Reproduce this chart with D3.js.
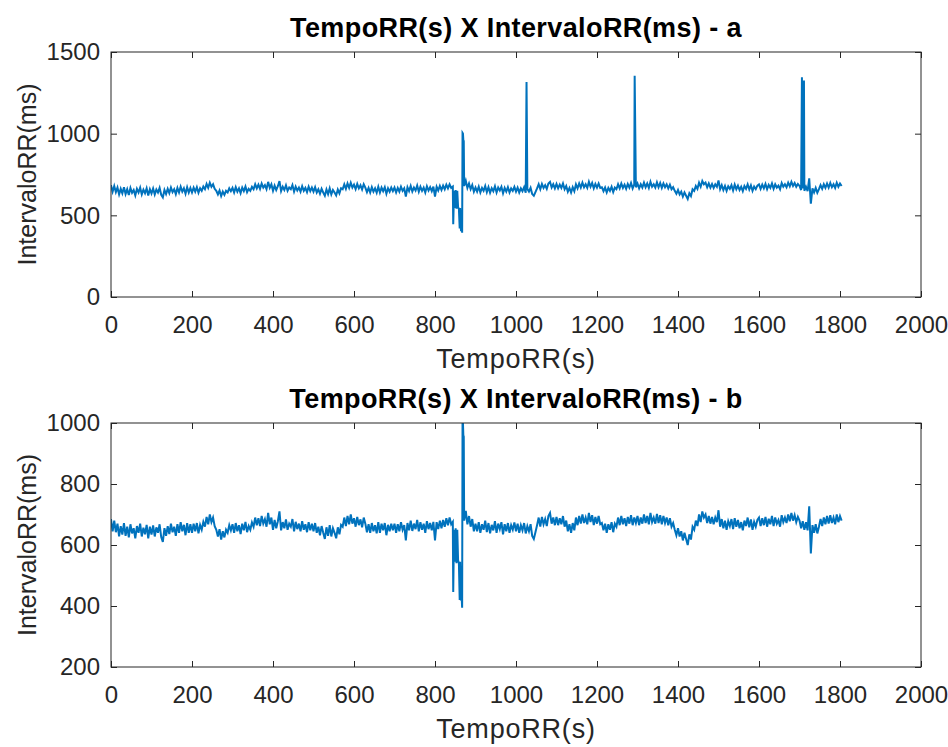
<!DOCTYPE html>
<html><head><meta charset="utf-8">
<script src="https://cdn.jsdelivr.net/npm/d3@7"></script>
<style>body{margin:0;background:#fff}</style>
</head><body>
<svg id="c" width="948" height="747"></svg>
<script>
// RR interval (ms) sampled every stepSec seconds (null = beats replaced by eventRR detail)
const stepSec = 4;
const baseRR = [
685,645,680,642,670,628,662,634,672,630,660,625,668,638,655,622,662,640,670,628,657,635,666,622,660,
634,664,628,658,640,668,626,610,655,630,662,636,670,642,660,630,668,640,675,645,666,632,672,640,668,
640,670,645,672,638,666,650,676,660,692,668,700,675,690,662,650,628,652,618,645,625,650,640,665,648,
668,640,672,645,665,636,670,648,676,642,662,650,674,660,690,665,688,662,695,670,685,660,705,668,690,
650,682,655,678,710,648,675,655,684,650,670,660,685,645,676,652,670,645,678,650,668,642,675,648,670,
645,672,640,660,632,662,640,620,658,630,665,628,655,640,622,658,635,666,660,690,662,695,668,700,670,
688,660,692,665,684,658,690,670,642,668,640,672,645,665,638,675,640,670,648,672,632,666,645,670,648,
670,640,668,645,675,650,665,615,672,648,680,646,670,652,682,645,675,650,670,640,678,652,672,648,676,
615,675,652,680,655,682,660,688,665,690,668,676,null,null,null,null,null,null,680,712,668,695,660,685,645,
670,645,675,640,668,650,680,642,672,638,666,648,678,640,670,652,675,635,668,645,672,640,665,650,674,
645,670,640,665,648,672,638,662,645,668,630,620,642,665,690,660,692,668,685,662,695,705,670,690,665,
692,665,688,668,695,660,680,645,668,640,672,648,690,665,695,670,700,672,690,668,705,675,698,665,692,
670,695,668,672,648,670,640,668,650,675,642,670,660,690,665,695,668,688,662,692,670,698,665,690,672,
695,665,690,670,700,672,695,668,705,675,690,670,702,672,698,668,695,672,690,665,688,660,672,650,632,
655,628,645,615,640,620,600,635,618,660,650,680,662,700,675,710,690,700,672,695,670,692,668,690,675,
714,660,685,655,680,650,678,662,685,652,688,660,682,655,675,648,680,662,690,658,684,650,676,660,682,
690,662,688,665,692,660,686,668,695,662,690,670,682,660,698,675,690,672,700,678,705,680,698,675,692,
680,655,678,650,675,648,727,572,665,640,668,638,660,685,662,690,668,695,670,698,672,690,668,700,675,695,680
];
// ectopic episode around 845-871 s (both panels)
const eventT  = [845,847,849,851,853,855,857,859,861,862,864,866,867,868,869,870,871];
const eventRR = [446,650,545,655,540,650,550,540,420,545,418,425,394,1004,1000,960,955];
// isolated artefact spikes present only in panel a
const spikeT_a  = [1026,1292,1293,1706,1707,1711];
const spikeRR_a = [1316,740,1355,1345,665,1325];

const xTicks = [0,200,400,600,800,1000,1200,1400,1600,1800,2000];
const yTicksA = [0,500,1000,1500];
const yTicksB = [200,400,600,800,1000];
const titleA = "TempoRR(s) X IntervaloRR(ms) - a";
const titleB = "TempoRR(s) X IntervaloRR(ms) - b";
const xLabel = "TempoRR(s)";
const yLabel = "IntervaloRR(ms)";

const seriesB = baseRR.map((v,i)=>({t:i*stepSec,v})).filter(d=>d.v!==null)
  .concat(eventT.map((t,i)=>({t,v:eventRR[i]})))
  .sort((a,b)=>a.t-b.t);
const seriesA = seriesB.concat(spikeT_a.map((t,i)=>({t,v:spikeRR_a[i]})))
  .sort((a,b)=>a.t-b.t);

const svg = d3.select("#c");
const L = 111, R = 921;
const axisColor = "#262626";
const lineColor = "#0072BD";
const font = "'Liberation Sans', Arial, sans-serif";

const panels = [
  {top:52, bottom:297, domain:[0,1500], yt:yTicksA, data:seriesA, title:titleA, id:"a"},
  {top:423, bottom:667, domain:[200,1000], yt:yTicksB, data:seriesB, title:titleB, id:"b"}
];

const x = d3.scaleLinear().domain([0,2000]).range([L,R]);

panels.forEach(p=>{
  const y = d3.scaleLinear().domain(p.domain).range([p.bottom,p.top]);
  const g = svg.append("g");
  g.append("clipPath").attr("id","clip"+p.id).append("rect")
    .attr("x",L).attr("y",p.top).attr("width",R-L).attr("height",p.bottom-p.top);
  g.append("path").datum(p.data)
    .attr("clip-path","url(#clip"+p.id+")")
    .attr("fill","none").attr("stroke",lineColor).attr("stroke-width",2)
    .attr("stroke-linejoin","miter")
    .attr("d",d3.line().x(d=>x(d.t)).y(d=>y(d.v)));

  const styleAxis = sel=>{
    sel.select(".domain").remove();
    sel.selectAll("line").attr("stroke",axisColor).attr("stroke-width",1);
    sel.selectAll("text").attr("fill",axisColor).style("font-family",font).style("font-size","24px");
  };
  g.append("g").attr("transform",`translate(0,${p.bottom})`)
    .call(d3.axisBottom(x).tickValues(xTicks).tickSize(-6).tickPadding(19).tickFormat(d3.format("d")))
    .call(styleAxis);
  g.append("g").attr("transform",`translate(0,${p.top})`)
    .call(d3.axisTop(x).tickValues(xTicks).tickSize(-6).tickFormat(""))
    .call(styleAxis);
  g.append("g").attr("transform",`translate(${L},0)`)
    .call(d3.axisLeft(y).tickValues(p.yt).tickSize(-6).tickPadding(11).tickFormat(d3.format("d")))
    .call(styleAxis);
  g.append("g").attr("transform",`translate(${R},0)`)
    .call(d3.axisRight(y).tickValues(p.yt).tickSize(-6).tickFormat(""))
    .call(styleAxis);
  g.append("rect").attr("x",L).attr("y",p.top).attr("width",R-L).attr("height",p.bottom-p.top)
    .attr("fill","none").attr("stroke",axisColor).attr("stroke-width",1);

  g.append("text").attr("x",(L+R)/2).attr("y",p.top-15).attr("text-anchor","middle")
    .style("font-family",font).style("font-size","27px").style("font-weight","bold")
    .style("letter-spacing","0.4px")
    .attr("fill","#000").text(p.title);
  g.append("text").attr("x",(L+R)/2).attr("y",p.bottom+71).attr("text-anchor","middle")
    .style("font-family",font).style("font-size","27px").style("letter-spacing","0.8px")
    .attr("fill",axisColor).text(xLabel);
  g.append("text").attr("transform",`translate(36,${(p.top+p.bottom)/2}) rotate(-90)`)
    .attr("text-anchor","middle")
    .style("font-family",font).style("font-size","25px").attr("fill",axisColor).text(yLabel);
});
</script>
</body></html>
